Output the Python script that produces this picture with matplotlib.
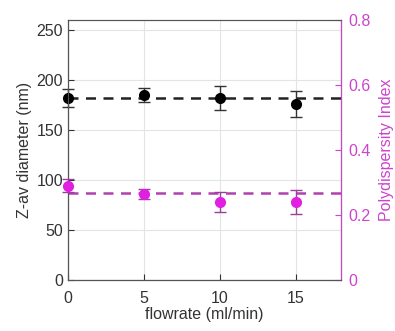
import numpy as np
import matplotlib
matplotlib.use("Agg")
import matplotlib.pyplot as plt

plt.rcParams['font.family'] = ['Liberation Sans', 'DejaVu Sans']

flowrate = [0, 5, 10, 15]
zav = [182, 185, 182, 176]
zav_err = [9, 7, 12, 13]
zav_mean = 182
pdi = [0.29, 0.265, 0.24, 0.24]
pdi_err = [0.02, 0.015, 0.032, 0.037]
pdi_mean = 0.268

fig = plt.figure(figsize=(3.95, 3.31), dpi=100)
ax = fig.add_axes([68 / 395, 51 / 331, 273 / 395, 260 / 331])
ax2 = ax.twinx()

ax.axhline(zav_mean, color='#222222', ls=(0, (4, 3)), lw=1.8, zorder=2)
ax.errorbar(flowrate, zav, yerr=zav_err, fmt='o', color='black', ms=7,
            ecolor='#333333', elinewidth=1, capsize=4, zorder=3, clip_on=False)

mag = '#e01fe0'
ax2.axhline(pdi_mean, color='#b040b0', ls=(0, (4, 3)), lw=1.8, zorder=2)
ax2.errorbar(flowrate, pdi, yerr=pdi_err, fmt='o', color=mag, ms=7,
             ecolor='#9a409a', elinewidth=1, capsize=4, zorder=3, clip_on=False)

ax.set_xlim(0, 18)
ax.set_ylim(0, 260)
ax2.set_ylim(0, 0.8)
ax.set_xticks([0, 5, 10, 15])
ax.set_yticks([0, 50, 100, 150, 200, 250])
ax2.set_yticks([0, 0.2, 0.4, 0.6, 0.8])
ax2.set_yticklabels(['0', '0.2', '0.4', '0.6', '0.8'])

ax.grid(True, color='#e4e4e4', lw=0.8)
ax.set_axisbelow(True)

ax.set_xlabel('flowrate (ml/min)', fontsize=11.5, color='#333333', labelpad=1)
ax.set_ylabel('Z-av diameter (nm)', fontsize=11.5, color='#333333', labelpad=3)
ax2.set_ylabel('Polydispersity Index', fontsize=11.5, color='#cc44cc', labelpad=6)

ax.tick_params(direction='in', labelsize=11.5, colors='#333333', length=4)
ax.tick_params(axis='x', pad=8)
ax2.tick_params(direction='in', labelsize=11.5, colors='#cc44cc', length=4, pad=5)

for s in ['left', 'bottom', 'top']:
    ax2.spines[s].set_color('#555555')
ax2.spines['right'].set_color('#cc44cc')
ax.spines['top'].set_color('#555555')

fig.savefig('out.png', dpi=100)
